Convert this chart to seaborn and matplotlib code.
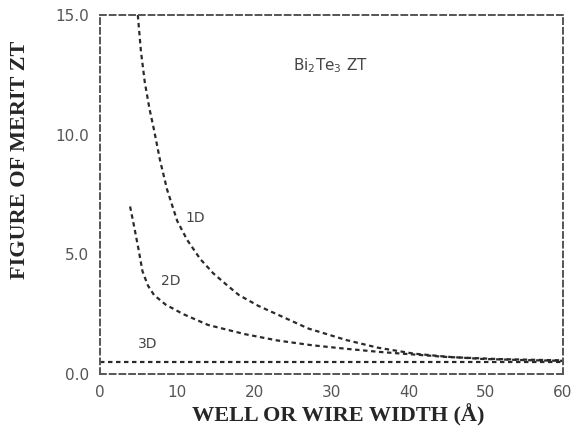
import numpy as np
import pandas as pd
import matplotlib
matplotlib.use("Agg")
import matplotlib.pyplot as plt
import seaborn as sns

# Data
w_1d = [4.9, 5.3, 5.8, 6.4, 7.0, 7.8, 8.7, 10.0, 11.3, 13.0, 14.7, 16.5, 18.0, 20.5, 23.1, 27.0, 31.9, 36.0, 40.7, 45.0, 49.5, 55.0, 60.0]
zt_1d = [15.0, 13.5, 12.2, 11.1, 10.2, 8.9, 7.7, 6.4, 5.6, 4.8, 4.2, 3.7, 3.3, 2.85, 2.47, 1.9, 1.42, 1.1, 0.85, 0.72, 0.63, 0.58, 0.55]

w_2d = [3.9, 4.4, 5.0, 5.5, 6.2, 7.0, 8.5, 10.8, 14.0, 18.7, 23.0, 27.5, 32.0, 36.3, 45.0, 52.0, 60.0]
zt_2d = [7.0, 6.2, 5.2, 4.3, 3.7, 3.3, 2.9, 2.5, 2.05, 1.67, 1.4, 1.2, 1.05, 0.92, 0.71, 0.62, 0.57]

w_3d = [0.0, 60.0]
zt_3d = [0.5, 0.5]

x_ticks = [0, 10, 20, 30, 40, 50, 60]
y_ticks = [0.0, 5.0, 10.0, 15.0]
y_tick_labels = ["0.0", "5.0", "10.0", "15.0"]

df = pd.concat([
    pd.DataFrame({"w": w_1d, "zt": zt_1d, "dim": "1D"}),
    pd.DataFrame({"w": w_2d, "zt": zt_2d, "dim": "2D"}),
    pd.DataFrame({"w": w_3d, "zt": zt_3d, "dim": "3D"}),
])

sns.set_style("white")
fig = plt.figure(figsize=(5.74, 4.38), dpi=100)
ax = fig.add_axes([100/574, 1-374/438, (563-100)/574, (374-15)/438])

for dim in ["1D", "2D", "3D"]:
    sns.lineplot(data=df[df.dim == dim], x="w", y="zt", ax=ax, color="#2a2a2a",
                 linewidth=1.6, linestyle=(0, (2.0, 1.6)), sort=False, estimator=None)

ax.set_xlim(0, 60)
ax.set_ylim(0, 15)
ax.set_xticks(x_ticks)
ax.set_xticklabels([str(t) for t in x_ticks])
ax.set_yticks(y_ticks)
ax.set_yticklabels(y_tick_labels)
ax.tick_params(direction="in", length=4, width=1.2, color="#444",
               labelsize=11, labelcolor="#555", pad=8)
for s in ax.spines.values():
    s.set_color("#555")
    s.set_linewidth(1.4)
    s.set_linestyle((0, (3, 2)))
ax.set_xlabel("")
ax.set_ylabel("")

ax.annotate("1D", xy=(12.4, 6.5), fontsize=10, color="#444", ha="center", va="center")
ax.annotate("2D", xy=(9.2, 3.9), fontsize=10, color="#444", ha="center", va="center")
ax.annotate("3D", xy=(6.2, 1.25), fontsize=10, color="#444", ha="center", va="center")
ax.annotate("Bi$_2$Te$_3$ ZT", xy=(29.8, 12.9), fontsize=11, color="#444",
            ha="center", va="center")

fig.text(338/574, 1-415/438, "WELL OR WIRE WIDTH (Å)", family="Liberation Serif",
         weight="bold", fontsize=16, ha="center", va="center")
fig.text(20/574, 1-160/438, "FIGURE OF MERIT ZT", family="Liberation Serif",
         weight="bold", fontsize=16, ha="center", va="center", rotation=90)

fig.savefig("out.png", dpi=100)
